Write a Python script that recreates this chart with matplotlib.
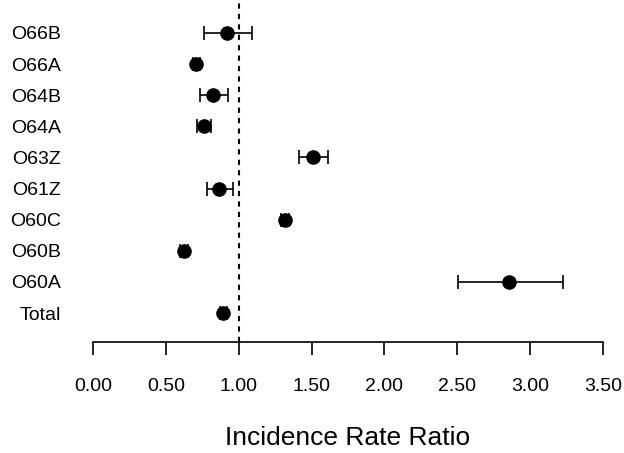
import matplotlib
matplotlib.use("Agg")
import matplotlib.pyplot as plt

# categories listed bottom to top
labels = ["Total", "O60A", "O60B", "O60C", "O61Z", "O63Z", "O64A", "O64B", "O66A", "O66B"]
irr = [0.894, 2.853, 0.627, 1.318, 0.867, 1.512, 0.762, 0.826, 0.710, 0.917]
lower = [0.870, 2.507, 0.600, 1.290, 0.785, 1.416, 0.714, 0.736, 0.685, 0.762]
upper = [0.918, 3.228, 0.655, 1.345, 0.963, 1.615, 0.808, 0.927, 0.735, 1.089]

xticks = [0.0, 0.5, 1.0, 1.5, 2.0, 2.5, 3.0, 3.5]

plt.rcParams['font.family'] = ['Liberation Sans', 'DejaVu Sans']

fig = plt.figure(figsize=(6.24, 4.53), dpi=100)
ax = fig.add_axes([93 / 624, 1 - 342 / 453, 510 / 624, 342 / 453])

ypos = list(range(len(labels)))
err = [[v - lo for v, lo in zip(irr, lower)], [hi - v for v, hi in zip(irr, upper)]]
ax.errorbar(irr, ypos, xerr=err, fmt='o', color='black', ms=9.5,
            elinewidth=1.2, capsize=5, capthick=1.2)
ax.axvline(1.0, color='black', ls=(0, (2.5, 2.5)), lw=1.5, zorder=0)

ax.set_xlim(0, 3.5)
ax.set_ylim(-0.93, 10.06)
ax.set_xticks(xticks)
ax.set_xticklabels([f"{t:.2f}" for t in xticks], fontsize=14)
ax.set_yticks(ypos)
ax.set_yticklabels(labels, fontsize=14)

for s in ['top', 'right', 'left']:
    ax.spines[s].set_visible(False)
ax.spines['bottom'].set_linewidth(1.2)
ax.tick_params(axis='x', length=9.5, width=1.2, pad=16.5)
ax.tick_params(axis='y', length=0, pad=23)
ax.set_xlabel("Incidence Rate Ratio", fontsize=19, labelpad=22)

fig.savefig("out.png", dpi=100)
